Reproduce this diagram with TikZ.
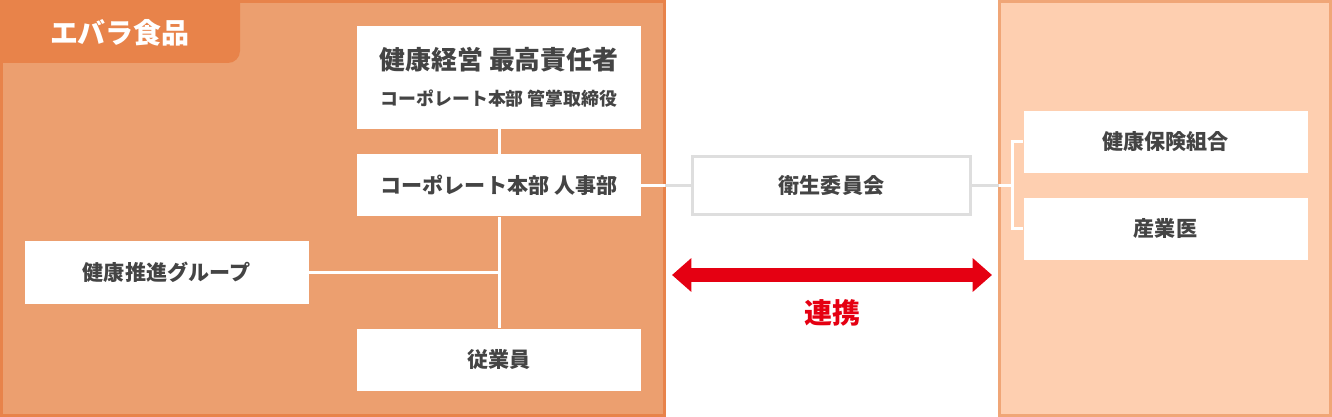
\documentclass[tikz,border=0pt]{standalone}
\usepackage{fontspec}
\setmainfont{Noto Sans CJK JP}
\usetikzlibrary{arrows.meta}
\definecolor{panelL}{HTML}{EC9F6F}
\definecolor{panelLb}{HTML}{E8834A}
\definecolor{panelR}{HTML}{FECFB0}
\definecolor{panelRb}{HTML}{F0A677}
\definecolor{linegray}{HTML}{DEDEDE}
\definecolor{txtgray}{HTML}{444444}
\definecolor{linkred}{HTML}{E50012}
\begin{document}
\begin{tikzpicture}[x=0.75pt,y=-0.75pt,every node/.style={font=\bfseries,text=txtgray},card/.style={fill=white,inner sep=0pt,minimum width=213pt,minimum height=46.5pt,font=\bfseries\fontsize{15.8pt}{18pt}\selectfont},wline/.style={draw=white,line width=2.25pt},gline/.style={draw=linegray,line width=2.25pt},redarrow/.style={{Triangle[length=14.5pt,width=24.5pt]}-{Triangle[length=14.5pt,width=24.5pt]},line width=11pt,draw=linkred}]
\useasboundingbox (0,0) rectangle (1332,417);
\draw[draw=panelLb,fill=panelL,line width=2.25pt] (1.5,1.5) rectangle (664.5,415.5);
\draw[draw=panelRb,fill=panelR,line width=2.25pt] (999.5,1.5) rectangle (1330.5,415.5);
\fill[panelLb,rounded corners=9pt] (-20,-20) rectangle (240,63);
\node[text=white,font=\bfseries\fontsize{21pt}{24pt}\selectfont] (company) at (120,33) {エバラ食品};
\node[card,minimum height=77.25pt,align=center] (cho) at (499,77.5) {{\fontsize{19.4pt}{20pt}\selectfont 健康経営 最高責任者}\\[9pt]{\fontsize{13.4pt}{14pt}\selectfont コーポレート本部 管掌取締役}};
\node[card] (hr) at (499,185.5) {コーポレート本部 人事部};
\node[card] (promo) at (166.5,272.5) {健康推進グループ};
\node[card] (staff) at (499,359.5) {従業員};
\node[card,draw=linegray,line width=2.25pt,minimum width=208.5pt,minimum height=44pt] (committee) at (831.5,185.5) {衛生委員会};
\node[card] (kenpo) at (1165.5,142) {健康保険組合};
\node[card] (sangyo) at (1165.5,229) {産業医};
\coordinate (lpR) at (665,0);
\coordinate (rpL) at (999,0);
\coordinate (brk) at (1012,0);
\draw[wline] (cho.south) -- (hr.north);
\draw[wline] (hr.south) -- (staff.north);
\draw[wline] (promo.east) -- (promo.east -| hr.south);
\draw[gline] (hr.east -| lpR) -- (committee.west);
\draw[wline] (hr.east) -- (hr.east -| lpR);
\draw[gline] (committee.east) -- (committee.east -| rpL);
\draw[wline] (committee.east -| rpL) -- (committee.east -| brk);
\draw[wline] (kenpo.west) -- (kenpo.west -| brk) -- (sangyo.west -| brk) -- (sangyo.west);
\coordinate (arrL) at (672,275);
\coordinate (arrR) at (992,275);
\draw[redarrow] (arrL) -- (arrR);
\node[text=linkred,font=\bfseries\fontsize{21pt}{24pt}\selectfont] (renkei) at (832,313) {連携};
\end{tikzpicture}
\end{document}
